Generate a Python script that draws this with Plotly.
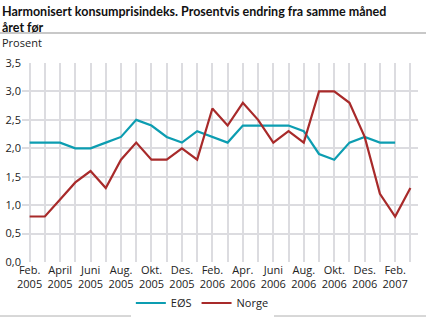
import plotly.graph_objects as go

months = ["Feb. 2005","Mar. 2005","April 2005","Mai 2005","Juni 2005","Juli 2005","Aug. 2005","Sep. 2005",
          "Okt. 2005","Nov. 2005","Des. 2005","Jan. 2006","Feb. 2006","Mar. 2006","Apr. 2006","Mai 2006",
          "Juni 2006","Juli 2006","Aug. 2006","Sep. 2006","Okt. 2006","Nov. 2006","Des. 2006","Jan. 2007",
          "Feb. 2007","Mar. 2007"]
eos = [2.1,2.1,2.1,2.0,2.0,2.1,2.2,2.5,2.4,2.2,2.1,2.3,2.2,2.1,2.4,2.4,2.4,2.4,2.3,1.9,1.8,2.1,2.2,2.1,2.1,None]
norge = [0.8,0.8,1.1,1.4,1.6,1.3,1.8,2.1,1.8,1.8,2.0,1.8,2.7,2.4,2.8,2.5,2.1,2.3,2.1,3.0,3.0,2.8,2.2,1.2,0.8,1.3]
tick_labels = ["Feb.<br>2005","","April<br>2005","","Juni<br>2005","","Aug.<br>2005","","Okt.<br>2005","",
               "Des.<br>2005","","Feb.<br>2006","","Apr.<br>2006","","Juni<br>2006","","Aug.<br>2006","",
               "Okt.<br>2006","","Des.<br>2006","","Feb.<br>2007",""]
y_ticks = [0.0,0.5,1.0,1.5,2.0,2.5,3.0,3.5]
y_labels = ["0,0","0,5","1,0","1,5","2,0","2,5","3,0","3,5"]

x = list(range(len(months)))

fig = go.Figure()
fig.add_trace(go.Scatter(x=x, y=eos, mode="lines", name="EØS",
                         line=dict(color="#0c9db1", width=2.2)))
fig.add_trace(go.Scatter(x=x, y=norge, mode="lines", name="Norge",
                         line=dict(color="#a82a2a", width=2.2)))

H = 322.0
fig.update_layout(
    width=426, height=322,
    margin=dict(l=22, r=8, t=63, b=60, autoexpand=False),
    paper_bgcolor="white", plot_bgcolor="white",
    font=dict(family="Open Sans", size=11, color="#222"),
    showlegend=True,
    legend=dict(orientation="h", xref="container", x=0.475, xanchor="center",
                yref="container", y=1 - 303 / H, yanchor="middle",
                font=dict(size=11), tracegroupgap=0),
    xaxis=dict(range=[-0.5, 25.5], tickmode="array", tickvals=x, ticktext=tick_labels,
               showgrid=True, gridcolor="#dcdce0", gridwidth=1.5, zeroline=False,
               showline=False, ticks="", tickfont=dict(size=11), tickangle=0),
    yaxis=dict(range=[0, 3.5], tickmode="array", tickvals=y_ticks, ticktext=y_labels,
               showgrid=True, gridcolor="#dcdce0", gridwidth=1.5, zeroline=False,
               showline=False, ticks="", tickfont=dict(size=11)),
    annotations=[
        dict(text="<b>Harmonisert konsumprisindeks. Prosentvis endring fra samme måned<br>året før</b>",
             xref="paper", yref="paper", x=-22/396, y=1 + 61/199, xanchor="left", yanchor="top",
             align="left", showarrow=False, font=dict(family="Lato", size=12.5, color="#111")),
        dict(text="Prosent", xref="paper", yref="paper", x=-22/396, y=1 + 21/199,
             xanchor="left", yanchor="middle", showarrow=False, font=dict(size=11, color="#222")),
    ],
    shapes=[
        dict(type="line", xref="paper", yref="paper", x0=-22/396, x1=1 + 8/396,
             y0=1 + 30/199, y1=1 + 30/199, line=dict(color="#c8c8c8", width=2)),
        dict(type="line", xref="paper", yref="paper", x0=-22/396, x1=1 + 8/396,
             y0=-54/199, y1=-54/199, line=dict(color="#b0b0b0", width=1)),
    ],
)

fig.write_html("out.html")
